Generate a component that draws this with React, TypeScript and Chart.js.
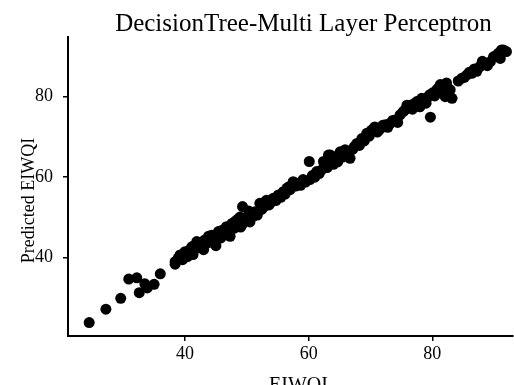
import React, { useEffect, useRef } from "react";
import { Chart, registerables } from "chart.js";

Chart.register(...registerables);

const TITLE = "DecisionTree-Multi Layer Perceptron";
const X_LABEL = "EIWQI";
const Y_LABEL = "Predicted EIWQI";
const TICK_VALUES = [40, 60, 80];

const observed = [
  24.5, 27.2, 29.6, 30.9, 32.2, 32.6, 33.5, 33.9, 35.0, 36.0,
  38.4, 38.9, 38.4, 39.2, 39.6, 40.0, 40.4, 40.8, 41.1, 41.3,
  41.9, 42.2, 42.7, 43.0, 43.2, 43.6, 44.0, 44.3, 44.6, 44.9,
  45.2, 45.4, 45.8, 46.2, 46.5, 46.7, 47.0, 47.3, 47.6, 47.9,
  48.1, 48.4, 48.7, 49.0, 49.2, 49.3, 49.7, 50.0, 50.5, 50.8,
  51.0, 51.3, 51.7, 52.1, 52.4, 52.8, 53.2, 53.6, 54.0, 54.3,
  54.7, 55.1, 55.5, 55.9, 56.2, 56.5, 57.0, 57.5, 57.9, 58.3,
  58.7, 59.1, 59.5, 60.1, 60.2, 60.6, 61.0, 61.3, 61.7, 62.1,
  62.4, 62.7, 63.0, 63.2, 63.5, 63.9, 64.3, 64.7, 65.1, 65.5,
  65.9, 66.4, 66.7, 67.1, 67.4, 67.8, 68.2, 68.6, 69.0, 69.4,
  69.8, 70.2, 70.7, 71.1, 71.6, 72.0, 72.4, 72.8, 73.2, 73.6,
  74.0, 74.4, 74.8, 75.3, 75.6, 75.9, 76.4, 76.8, 77.1, 77.5,
  78.0, 78.3, 78.6, 79.0, 79.3, 79.6, 79.7, 80.1, 80.4, 80.7,
  81.0, 81.3, 81.6, 81.9, 82.1, 82.3, 82.6, 82.9, 83.2, 84.2,
  84.8, 85.2, 85.6, 86.0, 86.4, 86.8, 87.2, 87.7, 88.1, 88.5,
  88.9, 89.4, 89.9, 90.3, 90.7, 91.0, 91.2, 91.5, 92.0,
  41.5, 43.8, 45.0, 46.0, 48.9, 50.3, 53.0, 56.8, 64.0, 71.3,
];

const predicted = [
  23.9, 27.2, 29.9, 34.7, 35.0, 31.3, 33.5, 32.5, 33.4, 36.0,
  38.4, 39.9, 39.0, 40.7, 39.5, 41.5, 40.3, 42.0, 42.7, 40.8,
  44.0, 42.5, 43.2, 42.0, 44.4, 43.6, 45.0, 45.6, 43.8, 44.4,
  45.2, 46.5, 44.9, 45.6, 47.0, 47.7, 46.4, 45.3, 48.5, 47.3,
  49.0, 49.4, 48.2, 47.6, 48.1, 52.7, 49.8, 49.2, 48.9, 51.0,
  50.3, 51.4, 50.6, 53.5, 52.0, 52.7, 54.3, 53.1, 53.9, 54.8,
  54.2, 55.6, 55.0, 56.4, 55.8, 57.3, 56.9, 58.9, 57.8, 58.5,
  58.0, 59.4, 58.8, 63.9, 59.4, 60.4, 60.0, 61.4, 60.9, 61.8,
  63.9, 63.0, 62.4, 65.5, 65.5, 64.2, 65.1, 63.8, 66.3, 65.0,
  66.8, 65.5, 64.7, 66.9, 67.6, 68.4, 67.9, 69.6, 69.0, 70.9,
  70.2, 71.7, 72.5, 71.2, 72.1, 72.9, 73.0, 72.4, 73.4, 74.1,
  74.2, 73.6, 75.5, 76.3, 76.7, 77.9, 77.9, 76.9, 78.3, 78.8,
  77.5, 79.6, 79.2, 78.4, 79.9, 80.5, 74.9, 81.0, 80.2, 81.7,
  82.2, 83.0, 81.4, 82.6, 80.0, 83.4, 82.0, 81.7, 79.6, 83.9,
  84.6, 84.8, 85.4, 86.1, 85.8, 86.9, 86.3, 87.5, 88.8, 88.3,
  87.7, 88.7, 89.9, 90.2, 90.8, 89.5, 91.6, 91.6, 91.2,
  43.0, 45.3, 43.0, 46.8, 50.1, 51.6, 53.9, 57.6, 63.2, 71.6,
];

const FONT = "'Liberation Serif', 'Times New Roman', serif";

const titlesPlugin = {
  id: "customTitles",
  afterDraw(chart: any) {
    const { ctx, chartArea } = chart;
    const cx = (chartArea.left + chartArea.right) / 2;
    const cy = (chartArea.top + chartArea.bottom) / 2;
    ctx.save();
    ctx.fillStyle = "#000";
    ctx.textAlign = "center";
    ctx.textBaseline = "alphabetic";
    ctx.font = `25px ${FONT}`;
    ctx.fillText(TITLE, cx + 13, chartArea.top - 6);
    ctx.font = `20px ${FONT}`;
    ctx.fillText(X_LABEL, cx + 8, chartArea.bottom + 55);
    ctx.translate(chartArea.left - 34, cy + 14);
    ctx.rotate(-Math.PI / 2);
    ctx.font = `18px ${FONT}`;
    ctx.fillText(Y_LABEL, 0, 0);
    ctx.restore();
  },
};

export default function App() {
  const canvasRef = useRef<HTMLCanvasElement | null>(null);

  useEffect(() => {
    if (!canvasRef.current) return;
    const points = observed.map((x, i) => ({ x, y: predicted[i] }));
    const axisCommon = {
      type: "linear" as const,
      afterBuildTicks: (scale: any) => {
        scale.ticks = TICK_VALUES.map((v) => ({ value: v }));
      },
      grid: {
        drawOnChartArea: false,
        drawTicks: true,
        tickLength: 5,
        color: "#000",
        lineWidth: 1.5,
      },
      border: { display: true, color: "#000", width: 2 },
    };
    const chart = new Chart(canvasRef.current, {
      type: "scatter",
      data: {
        datasets: [
          {
            data: points,
            backgroundColor: "#000",
            borderColor: "#000",
            borderWidth: 0,
            pointRadius: 5.5,
            pointHoverRadius: 5.5,
          },
        ],
      },
      options: {
        animation: false,
        responsive: true,
        maintainAspectRatio: false,
        layout: {
          autoPadding: false,
          padding: { top: 37, right: 1, left: 0, bottom: 0 },
        },
        plugins: {
          legend: { display: false },
          tooltip: { enabled: false },
          title: { display: false },
        },
        scales: {
          x: {
            ...axisCommon,
            position: "bottom",
            min: 21.07,
            max: 93.06,
            afterFit: (scale: any) => {
              scale.height = 49;
              scale.paddingLeft = 0;
              scale.paddingRight = 0;
            },
            ticks: {
              color: "#000",
              font: { family: FONT, size: 18 },
              padding: 2,
              maxRotation: 0,
            },
          },
          y: {
            ...axisCommon,
            position: "left",
            min: 20.55,
            max: 94.83,
            afterFit: (scale: any) => {
              scale.width = 68;
              scale.paddingTop = 0;
              scale.paddingBottom = 0;
            },
            ticks: {
              color: "#000",
              font: { family: FONT, size: 18 },
              padding: 10,
            },
          },
        },
      },
      plugins: [titlesPlugin],
    });
    return () => chart.destroy();
  }, []);

  return (
    <div
      style={{
        position: "fixed",
        left: 0,
        top: 0,
        width: 514,
        height: 385,
        background: "#fff",
      }}
    >
      <canvas ref={canvasRef} />
    </div>
  );
}
